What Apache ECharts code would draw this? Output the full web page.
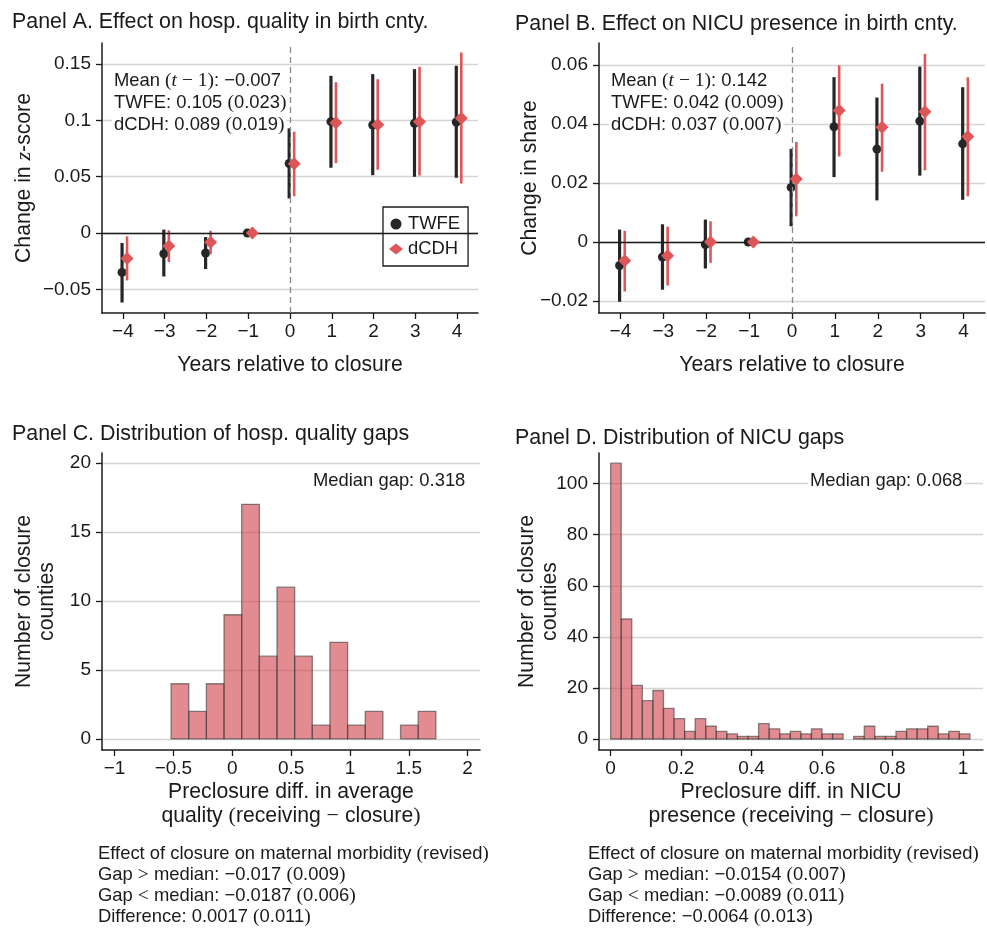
<!DOCTYPE html>
<html>
<head>
<meta charset="utf-8">
<script src="https://cdn.jsdelivr.net/npm/echarts@6/dist/echarts.min.js"></script>
<style>
  html, body { margin: 0; padding: 0; background: #fff; }
  #chart { width: 987px; height: 929px; }
</style>
</head>
<body>
<div id="chart"></div>
<script>
// ---- event-study estimates (years relative to closure) ----
const years = [-4, -3, -2, -1, 0, 1, 2, 3, 4];

// Panel A: hospital quality (z-score)
const qualTwfe   = [-0.035, -0.0184, -0.0178, 0, 0.0617, 0.0988, 0.0958, 0.0973, 0.0985];
const qualTwfeLo = [-0.0617, -0.0386, -0.032, null, 0.0306, 0.0579, 0.0513, 0.0499, 0.049];
const qualTwfeHi = [-0.0089, 0.003, -0.0036, null, 0.0929, 0.1395, 0.141, 0.1454, 0.1484];
const qualDcdh   = [-0.0226, -0.0116, -0.0083, 0, 0.0614, 0.0979, 0.0961, 0.0988, 0.1018];
const qualDcdhLo = [-0.0421, -0.0258, -0.0187, null, 0.0326, 0.062, 0.0561, 0.051, 0.0439];
const qualDcdhHi = [-0.003, 0.0024, 0.002, null, 0.0899, 0.1338, 0.1365, 0.1475, 0.1602];

// Panel B: NICU presence (share)
const nicuTwfe   = [-0.0080, -0.0051, -0.0009, 0, 0.0185, 0.0391, 0.0315, 0.041, 0.0333];
const nicuTwfeLo = [-0.0203, -0.0162, -0.009, null, 0.0053, 0.022, 0.0141, 0.0225, 0.0143];
const nicuTwfeHi = [0.0042, 0.006, 0.0076, null, 0.0316, 0.0559, 0.049, 0.0595, 0.0525];
const nicuDcdh   = [-0.0064, -0.0047, 0, 0, 0.0214, 0.0446, 0.0389, 0.0442, 0.0358];
const nicuDcdhLo = [-0.0168, -0.0148, -0.0071, null, 0.0087, 0.029, 0.0238, 0.0243, 0.0155];
const nicuDcdhHi = [0.0038, 0.0052, 0.007, null, 0.0339, 0.0599, 0.0537, 0.0638, 0.0559];

// ---- histograms of preclosure gaps ----
const qualGapStart = -0.52, qualGapWidth = 0.15;
const qualGapCounts = [4, 2, 4, 9, 17, 6, 11, 6, 1, 7, 1, 2, 0, 1, 2];
const nicuGapStart = 0, nicuGapWidth = 0.03;
const nicuGapCounts = [108, 47, 21, 15, 19, 12, 8, 3, 8, 5, 3, 2, 1, 1, 6, 4, 2, 3, 2, 4, 2, 2, 0, 1, 5, 1, 1, 3, 4, 4, 5, 2, 3, 2];

// ---- tick values ----
const ticksA_y = [-0.05, 0, 0.05, 0.1, 0.15];
const ticksB_y = [-0.02, 0, 0.02, 0.04, 0.06];
const ticksC_x = [-1, -0.5, 0, 0.5, 1, 1.5, 2];
const ticksC_y = [0, 5, 10, 15, 20];
const ticksD_x = [0, 0.2, 0.4, 0.6, 0.8, 1];
const ticksD_y = [0, 20, 40, 60, 80, 100];

// ---- text ----
const titles = [
  'Panel A. Effect on hosp. quality in birth cnty.',
  'Panel B. Effect on NICU presence in birth cnty.',
  'Panel C. Distribution of hosp. quality gaps',
  'Panel D. Distribution of NICU gaps'
];
const medianGaps = ['Median gap: 0.318', 'Median gap: 0.068'];

// ---- styling ----
const SANS = 'Liberation Sans';
const SERIF = 'Liberation Serif';
const INK = '#1a1a1a';
const DARK = '#262626';
const RED = '#df5659';
const TWFE_SHIFT = -0.02, DCDH_SHIFT = 0.1;

const minus = v => {
  const r = Math.round(v * 1e6) / 1e6;
  return r < 0 ? '\u2212' + String(-r) : String(r);
};

const richStyles = {
  s:  { fontFamily: SANS, fontSize: 18.4, color: INK },
  m:  { fontFamily: SERIF, fontSize: 19.5, color: INK },
  mi: { fontFamily: SERIF, fontSize: 19.5, fontStyle: 'italic', color: INK },
  S:  { fontFamily: SANS, fontSize: 21.2, color: INK },
  M:  { fontFamily: SERIF, fontSize: 22, color: INK },
  Mi: { fontFamily: SERIF, fontSize: 22, fontStyle: 'italic', color: INK }
};

const axisLineStyle = { lineStyle: { color: INK, width: 1.5 } };
const tickStyle = (vals) => ({ show: true, inside: false, length: 6, customValues: vals, lineStyle: { color: INK, width: 1.3 } });
const labelStyle = (vals, margin) => ({ customValues: vals, formatter: minus, fontFamily: SANS, fontSize: 19, color: INK, margin: margin });
const gridSplit = { show: true, lineStyle: { color: '#d4d4d4', width: 1.3 } };

function xAxisCfg(gridIndex, min, max, ticks, name, nameGap) {
  return {
    type: 'value', gridIndex, min, max,
    axisLine: Object.assign({ onZero: false }, axisLineStyle),
    axisTick: tickStyle(ticks),
    axisLabel: labelStyle(ticks, 9),
    splitLine: { show: false },
    name, nameLocation: 'middle', nameGap, nameMoveOverlap: false,
    nameTextStyle: { fontFamily: SANS, fontSize: 21.2, color: INK, lineHeight: 24, rich: richStyles }
  };
}
function yAxisCfg(gridIndex, min, max, ticks, name, nameGap, lineHeight) {
  return {
    type: 'value', gridIndex, min, max,
    axisLine: Object.assign({ onZero: false }, axisLineStyle),
    axisTick: tickStyle(ticks),
    axisLabel: labelStyle(ticks, 11),
    splitLine: gridSplit,
    name, nameLocation: 'middle', nameGap, nameRotate: 90, nameMoveOverlap: false,
    nameTextStyle: { fontFamily: SANS, fontSize: 21.2, color: INK, lineHeight: lineHeight || 23, rich: richStyles }
  };
}

function errorBars(idx, lo, hi, shift, color, width, z) {
  const data = [];
  years.forEach((yr, i) => { if (lo[i] != null) data.push([yr + shift, lo[i], hi[i]]); });
  return {
    type: 'custom', xAxisIndex: idx, yAxisIndex: idx, z, silent: true,
    encode: { x: 0, y: [1, 2] },
    data,
    renderItem: (params, api) => {
      const a = api.coord([api.value(0), api.value(1)]);
      const b = api.coord([api.value(0), api.value(2)]);
      return { type: 'line', shape: { x1: a[0], y1: a[1], x2: b[0], y2: b[1] },
               style: { stroke: color, lineWidth: width } };
    }
  };
}
function points(idx, name, est, shift, symbol, size, color, z) {
  return {
    type: 'scatter', name, xAxisIndex: idx, yAxisIndex: idx, z,
    symbol, symbolSize: size, itemStyle: { color, opacity: 1 },
    data: years.map((yr, i) => [yr + shift, est[i]])
  };
}
function refLines(idx) {
  return {
    type: 'scatter', xAxisIndex: idx, yAxisIndex: idx, z: 1, data: [],
    markLine: {
      silent: true, symbol: ['none', 'none'], label: { show: false }, animation: false,
      data: [
        { yAxis: 0, lineStyle: { color: INK, width: 1.4, type: 'solid' } },
        { xAxis: 0, lineStyle: { color: '#8a8a8a', width: 1.3, type: [6, 4] } }
      ]
    }
  };
}
function histogram(idx, start, width, counts) {
  return {
    type: 'custom', xAxisIndex: idx, yAxisIndex: idx, z: 2, silent: true,
    encode: { x: [0, 1], y: 2 },
    data: counts.map((c, i) => [start + i * width, start + (i + 1) * width, c]),
    renderItem: (params, api) => {
      if (!api.value(2)) return null;
      const p0 = api.coord([api.value(0), 0]);
      const p1 = api.coord([api.value(1), api.value(2)]);
      return { type: 'rect',
               shape: { x: p0[0], y: p1[1], width: p1[0] - p0[0], height: p0[1] - p1[1] },
               style: { fill: 'rgba(207,64,72,0.6)', stroke: 'rgba(60,60,60,0.6)', lineWidth: 1.3 } };
    }
  };
}

// plain text line; boxed=true gives it a white ground so grid lines pass behind it
function textLine(x, y, text, boxed) {
  const style = { text, rich: richStyles, fontFamily: SANS, fontSize: 18.4, fill: INK, verticalAlign: 'middle', align: 'left' };
  if (boxed) { style.backgroundColor = '#fff'; style.padding = [0, 2, 0, 2]; }
  return { type: 'text', x: boxed ? x - 2 : x, y, silent: true, z: 50, style };
}

const chart = echarts.init(document.getElementById('chart'), null, { renderer: 'canvas' });

const option = {
  animation: false,
  backgroundColor: '#fff',
  textStyle: { fontFamily: SANS },
  title: [
    { text: titles[0], left: 12, top: 12 },
    { text: titles[1], left: 515, top: 14 },
    { text: titles[2], left: 12, top: 424 },
    { text: titles[3], left: 515, top: 428 }
  ].map(t => Object.assign(t, { padding: 0, textStyle: { fontFamily: SANS, fontSize: 21.4, fontWeight: 'normal', color: INK } })),
  grid: [
    { left: 102, top: 43, width: 376, height: 270 },
    { left: 599, top: 43, width: 386, height: 270 },
    { left: 102, top: 453, width: 378, height: 297 },
    { left: 599, top: 453, width: 384, height: 297 }
  ],
  xAxis: [
    xAxisCfg(0, -4.5, 4.5, years, 'Years relative to closure', 40),
    xAxisCfg(1, -4.5, 4.5, years, 'Years relative to closure', 40),
    xAxisCfg(2, -1.107, 2.105, ticksC_x,
      '{S|Preclosure diff. in average}\n{S|quality }{M|(}{S|receiving }{M|\u2212}{S| closure}{M|)}', 30),
    xAxisCfg(3, -0.033, 1.057, ticksD_x,
      '{S|Preclosure diff. in NICU}\n{S|presence }{M|(}{S|receiving }{M|\u2212}{S| closure}{M|)}', 30)
  ],
  yAxis: [
    yAxisCfg(0, -0.071, 0.1686, ticksA_y, '{S|Change in }{Mi|z}{S|-score}', 66),
    yAxisCfg(1, -0.0241, 0.0675, ticksB_y, '{S|Change in share}', 57),
    yAxisCfg(2, -0.8, 20.72, ticksC_y, 'Number of closure\ncounties', 43.5, 23),
    yAxisCfg(3, -4.3, 112.0, ticksD_y, 'Number of closure\ncounties', 37.5, 23)
  ],
  legend: {
    left: 383, top: 207, orient: 'vertical',
    padding: [8, 8, 8, 6], itemGap: 7, itemWidth: 14, itemHeight: 11,
    borderColor: INK, borderWidth: 1.3, backgroundColor: '#fff',
    selectedMode: false,
    textStyle: { fontFamily: SANS, fontSize: 18.4, color: INK },
    data: [{ name: 'TWFE', icon: 'circle' }, { name: 'dCDH', icon: 'diamond' }]
  },
  series: [
    refLines(0),
    errorBars(0, qualTwfeLo, qualTwfeHi, TWFE_SHIFT, DARK, 3.2, 2),
    points(0, 'TWFE', qualTwfe, TWFE_SHIFT, 'circle', 9, DARK, 3),
    errorBars(0, qualDcdhLo, qualDcdhHi, DCDH_SHIFT, RED, 2.6, 4),
    points(0, 'dCDH', qualDcdh, DCDH_SHIFT, 'diamond', 13, RED, 5),

    refLines(1),
    errorBars(1, nicuTwfeLo, nicuTwfeHi, TWFE_SHIFT, DARK, 3.2, 2),
    points(1, 'TWFE', nicuTwfe, TWFE_SHIFT, 'circle', 9, DARK, 3),
    errorBars(1, nicuDcdhLo, nicuDcdhHi, DCDH_SHIFT, RED, 2.6, 4),
    points(1, 'dCDH', nicuDcdh, DCDH_SHIFT, 'diamond', 13, RED, 5),

    histogram(2, qualGapStart, qualGapWidth, qualGapCounts),
    histogram(3, nicuGapStart, nicuGapWidth, nicuGapCounts)
  ],
  graphic: [
    textLine(114, 81, '{s|Mean }{m|(}{mi|t}{m| \u2212 1)}{s|: \u22120.007}', true),
    textLine(114, 103, '{s|TWFE: 0.105 }{m|(}{s|0.023}{m|)}', true),
    textLine(114, 125, '{s|dCDH: 0.089 }{m|(}{s|0.019}{m|)}', true),

    textLine(611, 81, '{s|Mean }{m|(}{mi|t}{m| \u2212 1)}{s|: 0.142}', true),
    textLine(611, 103, '{s|TWFE: 0.042 }{m|(}{s|0.009}{m|)}', true),
    textLine(611, 125, '{s|dCDH: 0.037 }{m|(}{s|0.007}{m|)}', true),

    textLine(313, 481, '{s|' + medianGaps[0] + '}', true),
    textLine(810, 481, '{s|' + medianGaps[1] + '}', true),

    textLine(98, 854, '{s|Effect of closure on maternal morbidity }{m|(}{s|revised}{m|)}'),
    textLine(98, 875, '{s|Gap }{m|>}{s| median: \u22120.017 }{m|(}{s|0.009}{m|)}'),
    textLine(98, 896, '{s|Gap }{m|<}{s| median: \u22120.0187 }{m|(}{s|0.006}{m|)}'),
    textLine(98, 917, '{s|Difference: 0.0017 }{m|(}{s|0.011}{m|)}'),

    textLine(588, 854, '{s|Effect of closure on maternal morbidity }{m|(}{s|revised}{m|)}'),
    textLine(588, 875, '{s|Gap }{m|>}{s| median: \u22120.0154 }{m|(}{s|0.007}{m|)}'),
    textLine(588, 896, '{s|Gap }{m|<}{s| median: \u22120.0089 }{m|(}{s|0.011}{m|)}'),
    textLine(588, 917, '{s|Difference: \u22120.0064 }{m|(}{s|0.013}{m|)}')
  ]
};

chart.setOption(option);
</script>
</body>
</html>
